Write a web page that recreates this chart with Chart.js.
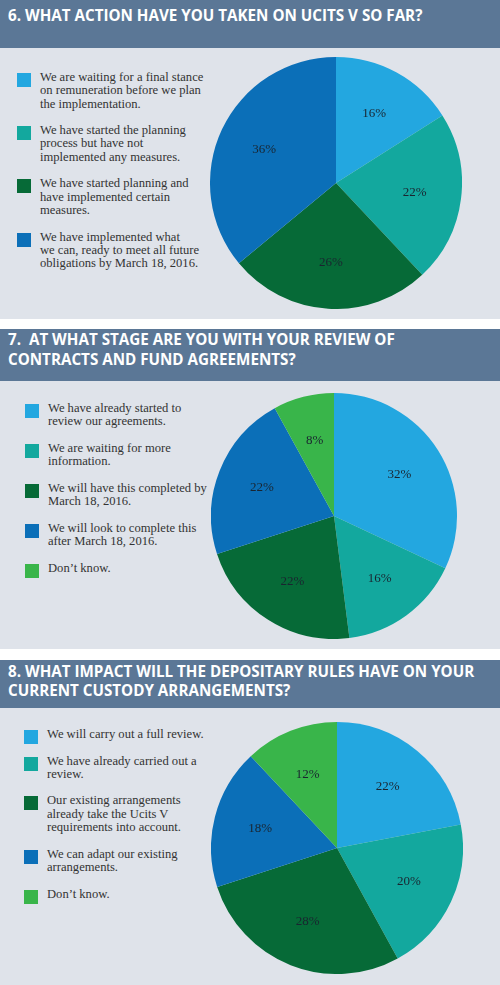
<!DOCTYPE html>
<html>
<head>
<meta charset="utf-8">
<script src="https://cdn.jsdelivr.net/npm/chart.js@4.4.0/dist/chart.umd.min.js"></script>
<style>
body { margin: 0; width: 500px; height: 985px; background: #fff; position: relative; overflow: hidden; }
.head { position: absolute; left: 0; width: 500px; background: #5b7796; color: #fff;
  font-family: "Open Sans", sans-serif; font-weight: 700; font-size: 15.2px; line-height: 20px;
  box-sizing: border-box; padding: 5px 0 0 8px; white-space: nowrap; }
.body { position: absolute; left: 0; width: 500px; background: #dfe3ea; }
.legend { position: absolute; font-family: "Liberation Serif", serif; font-size: 12.6px;
  line-height: 13.3px; color: #333; white-space: pre-line; }
.item { position: relative; padding-left: 23px; margin-bottom: 13.3px; }
.item span.sw { position: absolute; left: 0; top: 2px; width: 14px; height: 14px; }
canvas { position: absolute; }
</style>
</head>
<body>
<div class="head" style="top:0;height:48px;padding-top:5px">6. WHAT ACTION HAVE YOU TAKEN ON UCITS V SO FAR?</div>
<div class="body" style="top:48px;height:271px"></div>
<div class="head" style="top:329px;height:52px;padding-top:0">7.&nbsp; AT WHAT STAGE ARE YOU WITH YOUR REVIEW OF<br>CONTRACTS AND FUND AGREEMENTS?</div>
<div class="body" style="top:381px;height:268px"></div>
<div class="head" style="top:660px;height:48px;padding-top:2px;line-height:18.5px">8. WHAT IMPACT WILL THE DEPOSITARY RULES HAVE ON YOUR<br>CURRENT CUSTODY ARRANGEMENTS?</div>
<div class="body" style="top:708px;height:277px"></div>

<div class="legend" id="leg1" style="left:17px;top:71px"></div>
<div class="legend" id="leg2" style="left:25px;top:402px"></div>
<div class="legend" id="leg3" style="left:24px;top:728px"></div>

<canvas id="pie1" width="252" height="252" style="left:210px;top:57px"></canvas>
<canvas id="pie2" width="246" height="246" style="left:211px;top:393px"></canvas>
<canvas id="pie3" width="252" height="252" style="left:211px;top:722px"></canvas>

<script>
var colors = ['#23a7e0', '#13a89e', '#066a37', '#0b6fb8', '#39b54a'];

var labels1 = [
  'We are waiting for a final stance\non remuneration before we plan\nthe implementation.',
  'We have started the planning\nprocess but have not\nimplemented any measures.',
  'We have started planning and\nhave implemented certain\nmeasures.',
  'We have implemented what\nwe can, ready to meet all future\nobligations by March 18, 2016.'
];
var values1 = [16, 22, 26, 36];

var labels2 = [
  'We have already started to\nreview our agreements.',
  'We are waiting for more\ninformation.',
  'We will have this completed by\nMarch 18, 2016.',
  'We will look to complete this\nafter March 18, 2016.',
  'Don\u2019t know.'
];
var values2 = [32, 16, 22, 22, 8];

var labels3 = [
  'We will carry out a full review.',
  'We have already carried out a\nreview.',
  'Our existing arrangements\nalready take the Ucits V\nrequirements into account.',
  'We can adapt our existing\narrangements.',
  'Don\u2019t know.'
];
var values3 = [22, 20, 28, 18, 12];

// draws the percentage inside each slice
var pctLabels = {
  id: 'pctLabels',
  afterDatasetsDraw: function(chart) {
    var c = chart.ctx;
    var meta = chart.getDatasetMeta(0);
    c.save();
    c.font = '13px "Liberation Serif", serif';
    c.fillStyle = '#1a2530';
    c.textAlign = 'center';
    c.textBaseline = 'middle';
    meta.data.forEach(function(arc, i) {
      var mid = (arc.startAngle + arc.endAngle) / 2;
      var r = arc.outerRadius * 0.63;
      c.fillText(chart.data.datasets[0].data[i] + '%', arc.x + Math.cos(mid) * r, arc.y + Math.sin(mid) * r);
    });
    c.restore();
  }
};

function makePie(id, legId, labels, values) {
  var leg = document.getElementById(legId);
  labels.forEach(function(l, i) {
    var d = document.createElement('div');
    d.className = 'item';
    d.innerHTML = '<span class="sw" style="background:' + colors[i] + '"></span>' + l;
    leg.appendChild(d);
  });
  new Chart(document.getElementById(id), {
    type: 'pie',
    data: {
      labels: labels,
      datasets: [{
        data: values,
        backgroundColor: colors.slice(0, values.length),
        borderWidth: 0
      }]
    },
    options: {
      responsive: false,
      animation: false,
      layout: { padding: 0 },
      plugins: { legend: { display: false }, tooltip: { enabled: false } }
    },
    plugins: [pctLabels]
  });
}

makePie('pie1', 'leg1', labels1, values1);
makePie('pie2', 'leg2', labels2, values2);
makePie('pie3', 'leg3', labels3, values3);
</script>
</body>
</html>
